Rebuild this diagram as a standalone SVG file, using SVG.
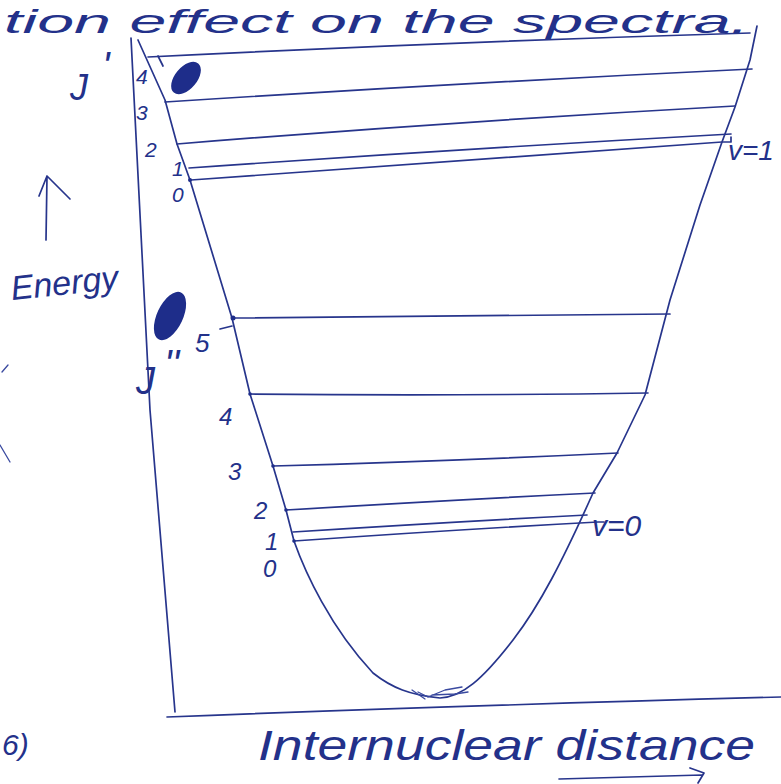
<svg xmlns="http://www.w3.org/2000/svg" width="781" height="784" viewBox="0 0 781 784">
<style>
.ink{fill:none;stroke:#27358c;stroke-width:1.7;stroke-linecap:round;stroke-linejoin:round}
.thin{fill:none;stroke:#3a4aa0;stroke-width:1.3;stroke-linecap:round;stroke-linejoin:round}
.blob{fill:#1e2d8a}
.t{font-family:"Liberation Sans",Arial,sans-serif;font-style:italic;fill:#23318a}
.n{font-size:24px}
.s{font-size:21px}
</style>
<rect width="781" height="784" fill="#ffffff"/>
<g id="title-fragment">
<text class="t" x="4" y="33" font-size="34" textLength="745" lengthAdjust="spacingAndGlyphs">tion effect on the spectra.</text>
</g>
<g id="axes">
<path class="ink" d="M131,38 L150,410 L175,712"/>
<path class="ink" d="M167,717 Q450,706 781,697"/>
<path class="ink" d="M46,240 L47,176 M39,196 L47,176 L70,199"/>
<path class="ink" d="M559,779 L702,775 M690,768 L704,773 L698,783"/>
</g>
<g id="curve">
<path class="ink" d="M138,40 L165,100 L177,144 L190,180 L232,318 L250,394 L273,466 L286,510 L294,541 C305,572 330,627 373,673 C392,688 410,695 440,698 C462,697 482,680 513,640 C540,605 563,560 593,493 L617,453 L645,395 L670,300 L700,205 L722,142 L735,107 L750,60 L757,26"/>
<path class="thin" d="M418,692 L428,697 L445,690 L462,687 M432,695 L455,694 L468,692 M412,690 L425,699"/>
</g>
<g id="upper-levels">
<path class="ink" d="M148,57 Q450,42 750,33"/>
<path class="ink" d="M165,102 Q460,83 752,69"/>
<path class="ink" d="M177,144 Q460,121 735,106"/>
<path class="ink" d="M189,168 Q460,149 731,134"/>
<path class="ink" d="M191,180 Q460,160 722,142 L731,142 L731,137"/>
<circle class="blob" cx="190" cy="180" r="2"/>
<path class="ink" d="M158,56 L163,66"/>
<ellipse class="blob" cx="186" cy="78" rx="11" ry="19" transform="rotate(40 186 78)"/>
</g>
<g id="lower-levels">
<path class="ink" d="M232,318 Q450,316 670,314"/>
<path class="ink" d="M250,394 Q450,396 648,393"/>
<path class="ink" d="M273,466 Q450,461 618,453"/>
<path class="ink" d="M286,510 Q450,500 595,493"/>
<path class="ink" d="M293,532 Q450,522 587,515"/>
<path class="ink" d="M294,541 Q450,530 598,522 L604,522"/>
<circle class="blob" cx="233" cy="318" r="2.5"/>
<circle class="blob" cx="250" cy="394" r="1.8"/>
<circle class="blob" cx="273" cy="466" r="1.8"/>
<circle class="blob" cx="286" cy="510" r="1.8"/>
<circle class="blob" cx="294" cy="541" r="1.8"/>
<path class="ink" d="M220,329 L232,326"/>
<ellipse class="blob" cx="170" cy="316" rx="13" ry="26" transform="rotate(25 170 316)"/>
</g>
<g id="labels">
<text class="t" x="70" y="100" font-size="36">J</text>
<text class="t" x="102" y="80" font-size="40">'</text>
<text class="t s" x="136" y="84">4</text>
<text class="t s" x="136" y="120">3</text>
<text class="t s" x="145" y="157">2</text>
<text class="t s" x="172" y="176">1</text>
<text class="t s" x="172" y="202">0</text>
<text class="t" x="728" y="160" font-size="28">v=1</text>
<text class="t" x="136" y="394" font-size="38">J</text>
<text class="t" x="164" y="378" font-size="40">''</text>
<text class="t" x="195" y="352" font-size="26">5</text>
<text class="t n" x="219" y="425">4</text>
<text class="t n" x="228" y="480">3</text>
<text class="t n" x="254" y="519">2</text>
<text class="t n" x="265" y="550">1</text>
<text class="t n" x="263" y="577">0</text>
<text class="t" x="592" y="536" font-size="30">v=0</text>
<text class="t" x="12" y="300" font-size="34" transform="rotate(-6 12 300)">Energy</text>
<text class="t" x="258" y="760" font-size="42" textLength="497" lengthAdjust="spacingAndGlyphs">Internuclear distance</text>
<text class="t" x="2" y="755" font-size="30">6)</text>
<path class="thin" d="M8,365 L2,372 M0,445 L10,462"/>
</g>
</svg>
